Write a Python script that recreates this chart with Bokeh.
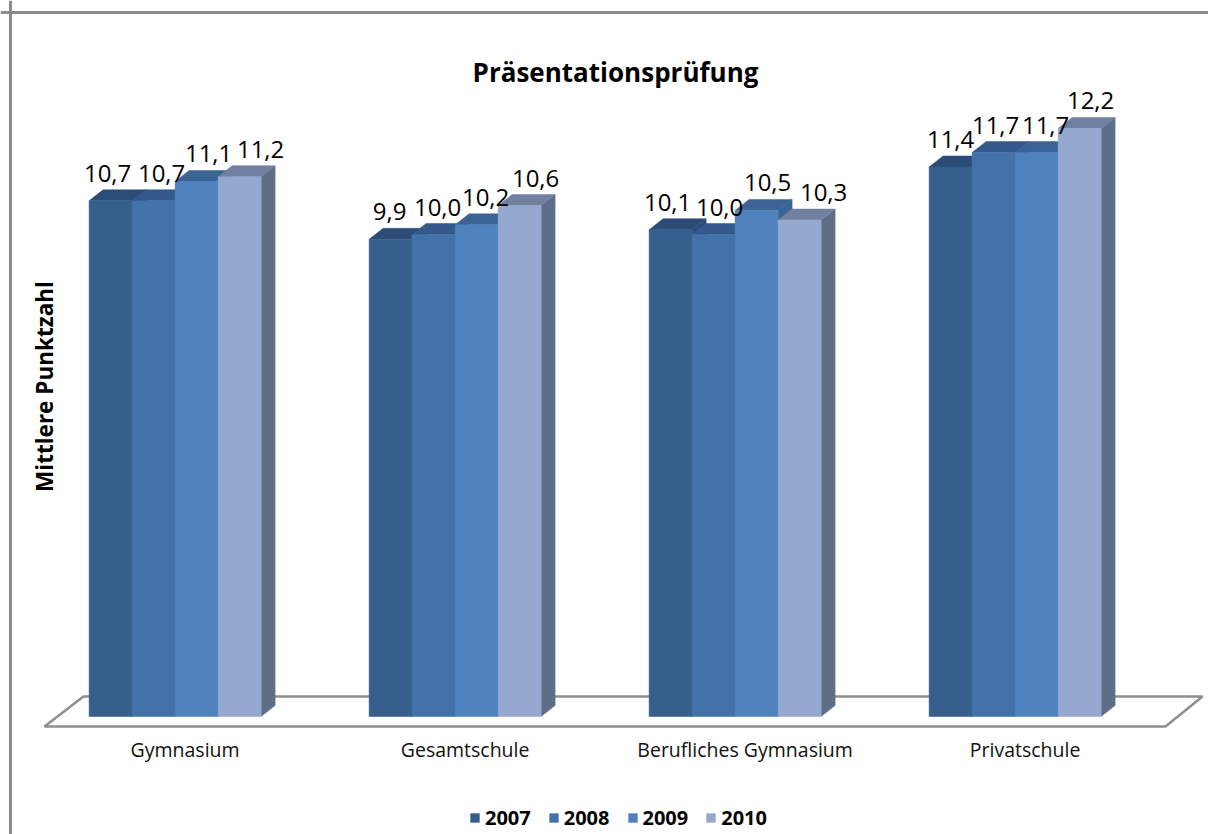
from bokeh.plotting import figure
from bokeh.models import (ColumnDataSource, Legend, LegendItem, Range1d, Span, Label,
                          FixedTicker, LinearAxis)
from bokeh.embed import file_html
from bokeh.resources import INLINE

categories = ["Gymnasium", "Gesamtschule", "Berufliches Gymnasium", "Privatschule"]
series_names = ["2007", "2008", "2009", "2010"]
values_2007 = [10.7, 9.9, 10.1, 11.4]
values_2008 = [10.7, 10.0, 10.0, 11.7]
values_2009 = [11.1, 10.2, 10.5, 11.7]
values_2010 = [11.2, 10.6, 10.3, 12.2]
title_text = "Präsentationsprüfung"
y_label = "Mittlere Punktzahl"

all_values = [values_2007, values_2008, values_2009, values_2010]
front_colors = ["#365F8E", "#4272A9", "#4F81BD", "#95A9D0"]
top_colors = ["#2C4C78", "#34598A", "#3B6393", "#7180A0"]
side_colors = ["#2C4C78", "#34598A", "#3B6393", "#5F6E88"]
# horizontal nudges of the value labels (px), per series then per group
label_nudge = [[-3, -1, -3, 0], [8, 4, 6, 2], [12, 9, 11, 9], [21, 16, 24, 11]]

WIDTH, HEIGHT = 1208, 834
PX_CAT = 280.0      # pixels between groups
PX_VAL = 48.2       # pixels per unit of value
ORIGIN_X = 174.6    # picture x of first group's centre
ORIGIN_Y = 716.0    # picture y of value 0
LABEL_SHIFT = 10.0  # category labels sit right of the group's centre
fx = lambda px: (px - ORIGIN_X) / PX_CAT
fy = lambda py: (ORIGIN_Y - py) / PX_VAL

BAR_W = 43.0 / PX_CAT
DX = 14.0 / PX_CAT
DY = 11.0 / PX_VAL

p = figure(width=WIDTH, height=HEIGHT, output_backend="svg", toolbar_location=None,
           x_range=Range1d(fx(0), fx(WIDTH)),
           y_range=Range1d(fy(HEIGHT), fy(0)),
           min_border=0, min_border_left=0, min_border_right=0, min_border_top=0,
           min_border_bottom=0, x_axis_location=None, y_axis_location=None)
p.extra_x_ranges["labels"] = Range1d(fx(-LABEL_SHIFT), fx(WIDTH - LABEL_SHIFT))
p.grid.visible = False
p.outline_line_color = None
p.background_fill_color = "white"
p.border_fill_color = "white"

# chart frame (top and left edges are visible in the picture)
for dim, loc in (("width", fy(12)), ("height", fx(10))):
    p.add_layout(Span(location=loc, dimension=dim, line_color="#8C8C8C", line_width=3))

# floor
p.patch([fx(44), fx(83), fx(1202), fx(1165)], [fy(726), fy(696), fy(696), fy(726)],
        fill_color="white", line_color="#8F8F8F", line_width=2.5)

# x axis
xa = LinearAxis(x_range_name="labels", fixed_location=fy(727),
                ticker=FixedTicker(ticks=list(range(len(categories)))),
                major_label_overrides={i: c for i, c in enumerate(categories)},
                major_tick_line_color=None, minor_tick_line_color=None, axis_line_color=None,
                major_label_standoff=2, major_label_text_font="Open Sans",
                major_label_text_font_size="19.5px", major_label_text_color="#111111")
p.add_layout(xa, "below")

# y axis: title only
ya = LinearAxis(fixed_location=fx(59), ticker=FixedTicker(ticks=[]), axis_label=y_label,
                bounds=(fy(490), fy(282)),
                major_tick_line_color=None, minor_tick_line_color=None, axis_line_color=None,
                major_label_text_font_size="0px", axis_label_standoff=0,
                axis_label_text_font="Open Sans", axis_label_text_font_style="bold",
                axis_label_text_font_size="22.5px", axis_label_text_color="black")
p.add_layout(ya, "left")

legend_items = []
for s, (name, vals) in enumerate(zip(series_names, all_values)):
    offs = (s - 1.5) * BAR_W
    xs = [i + offs for i in range(len(vals))]
    left = [x - BAR_W / 2 for x in xs]
    right = [x + BAR_W / 2 for x in xs]
    src = ColumnDataSource(dict(
        x=xs, top=vals,
        side_x=[[r, r + DX, r + DX, r] for r in right],
        side_y=[[0, DY, v + DY, v] for v in vals],
        top_x=[[l, l + DX, r + DX, r] for l, r in zip(left, right)],
        top_y=[[v, v + DY, v + DY, v] for v in vals],
    ))
    p.patches("side_x", "side_y", source=src, fill_color=side_colors[s], line_color=side_colors[s], line_width=0.5)
    p.patches("top_x", "top_y", source=src, fill_color=top_colors[s], line_color=top_colors[s], line_width=0.5)
    front = p.vbar(x="x", top="top", bottom=0, width=BAR_W, source=src,
                   fill_color=front_colors[s], line_color=front_colors[s], line_width=0.5)
    legend_items.append(LegendItem(label=name, renderers=[front]))

# value labels drawn last, above every bar
for s, vals in enumerate(all_values):
    offs = (s - 1.5) * BAR_W
    xs = [i + offs + label_nudge[s][i] / PX_CAT for i in range(len(vals))]
    ys = [v + 27.5 / PX_VAL for v in vals]
    txt = [f"{v:.1f}".replace(".", ",") for v in vals]
    p.text(xs, ys, text=txt, text_align="center", text_baseline="middle",
           text_font={"value": "Open Sans"}, text_font_size={"value": "24px"}, text_color="black")

p.add_layout(Label(x=fx(615), y=fy(71), text=title_text, text_align="center",
                   text_baseline="middle", text_font="Open Sans", text_font_style="bold",
                   text_font_size="26px", text_color="black"))

legend = Legend(items=legend_items, orientation="horizontal", location=(469, 3),
                border_line_color=None, background_fill_alpha=0,
                label_text_font="Open Sans", label_text_font_style="bold",
                label_text_font_size="20px", label_text_color="black",
                glyph_width=11, glyph_height=11, label_standoff=5, spacing=17, margin=0,
                padding=2)
p.add_layout(legend)

open("out.html", "w").write(file_html(p, INLINE))
